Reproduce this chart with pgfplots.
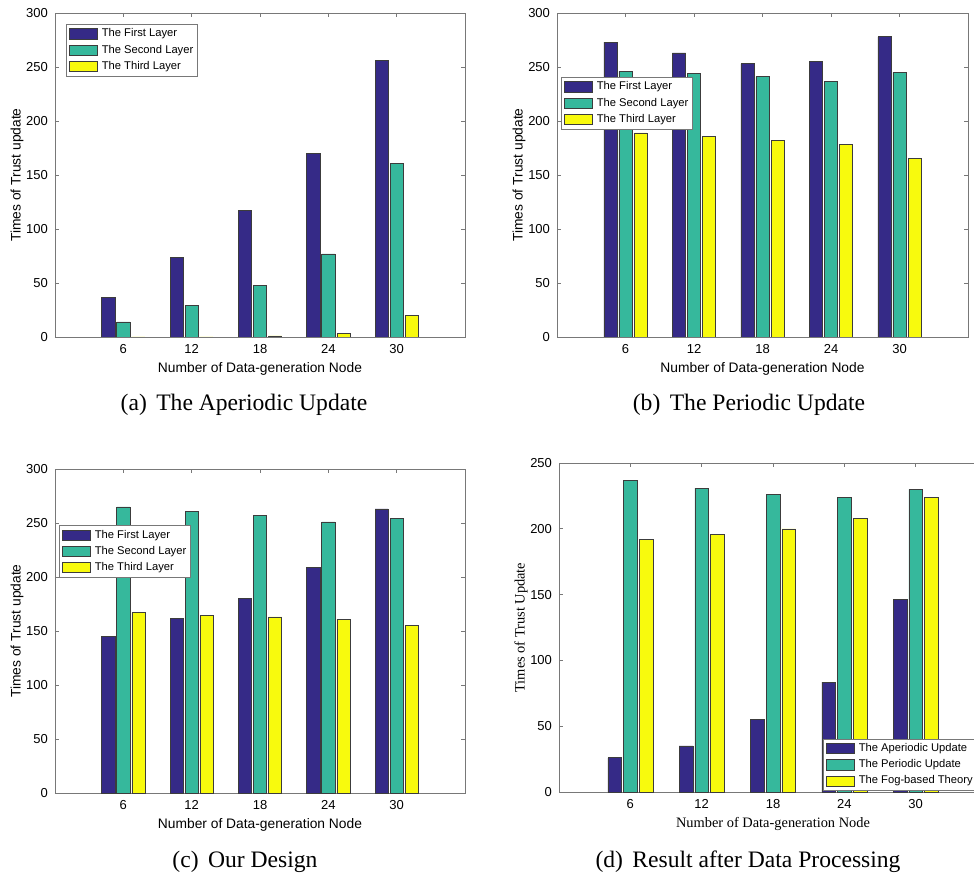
\documentclass[border=0pt]{standalone}
\usepackage{fontspec}
\setmainfont{Liberation Sans}
\newfontfamily\timesfont{Liberation Serif}
\usepackage{pgfplots}
\pgfplotsset{compat=1.18}
\usetikzlibrary{calc}
\definecolor{c1}{RGB}{53,42,135}
\definecolor{c2}{RGB}{54,184,156}
\definecolor{c3}{RGB}{248,250,13}
\definecolor{edge}{RGB}{60,60,60}
\definecolor{axcol}{RGB}{120,120,120}
\pgfplotsset{
 mybar/.style={
   scale only axis, anchor=north west,
   xmin=0, xmax=36, ymin=0,
   xtick={6,12,18,24,30},
   ybar, bar width=1.15,
   tick align=inside, major tick length=2pt,
   axis line style={draw=axcol, line width=0.4pt},
   tick style={draw=axcol, line width=0.4pt},
   /pgf/number format/assume math mode=true,
   ticklabel style={font=\fontsize{6.5}{7}\selectfont},
   label style={font=\fontsize{6.9}{8}\selectfont},
   xlabel={Number of Data-generation Node},
   ylabel={Times of Trust update},
   xlabel style={at={($(rel axis cs:0.5,0)+(0pt,-16pt)$)}, anchor=center},
   ylabel style={at={($(rel axis cs:0,0.5)+(-19pt,0pt)$)}, anchor=center},
   legend cell align=left,
   legend style={font=\fontsize{5.6}{6}\selectfont, draw=axcol, line width=0.4pt, fill=white,
     inner xsep=1.2pt, inner ysep=1pt, column sep=1.2pt,
     nodes={inner sep=1pt, text height=4.3pt, text depth=1.3pt}, row sep=0.5pt},
   legend image code/.code={\draw[#1] (0pt,-2.6pt) rectangle (14pt,2.6pt);},
   s1/.style={fill=c1, draw=edge, line width=0.3pt, bar shift=-1.32},
   s2/.style={fill=c2, draw=edge, line width=0.3pt, bar shift=0},
   s3/.style={fill=c3, draw=edge, line width=0.3pt, bar shift=1.32},
 }
}
\begin{document}
\begin{tikzpicture}[x=1pt,y=1pt]
\useasboundingbox (0pt,0pt) rectangle (487pt,-438.5pt);
% (a)
\begin{axis}[mybar, at={(27.5pt,-6.5pt)}, width=205pt, height=162pt, ymax=300, ytick={0,50,...,300},
  legend style={at={(rel axis cs:0,1)}, anchor=north west, xshift=5.5pt, yshift=-5.5pt}]
\addplot[s1] coordinates {(6,37) (12,74) (18,117) (24,170) (30,256)};
\addplot[s2] coordinates {(6,14) (12,29) (18,48) (24,77) (30,161)};
\addplot[s3] coordinates {(6,0) (12,0) (18,1) (24,3) (30,20)};
\legend{The First Layer, The Second Layer, The Third Layer}
\end{axis}
% (b)
\begin{axis}[mybar, at={(278.5pt,-6.5pt)}, width=205.5pt, height=162pt, ymax=300, ytick={0,50,...,300},
  legend style={at={(rel axis cs:0,1)}, anchor=north west, xshift=2pt, yshift=-32pt}]
\addplot[s1] coordinates {(6,273) (12,263) (18,253) (24,255) (30,278)};
\addplot[s2] coordinates {(6,246) (12,244) (18,241) (24,237) (30,245)};
\addplot[s3] coordinates {(6,189) (12,186) (18,182) (24,178) (30,165)};
\legend{The First Layer, The Second Layer, The Third Layer}
\end{axis}
% (c)
\begin{axis}[mybar, at={(27.5pt,-234.5pt)}, width=205pt, height=162pt, ymax=300, ytick={0,50,...,300},
  legend style={at={(rel axis cs:0,1)}, anchor=north west, xshift=2pt, yshift=-28pt}]
\addplot[s1] coordinates {(6,145) (12,162) (18,180) (24,209) (30,263)};
\addplot[s2] coordinates {(6,265) (12,261) (18,257) (24,251) (30,254)};
\addplot[s3] coordinates {(6,167) (12,164.5) (18,163) (24,161) (30,155)};
\legend{The First Layer, The Second Layer, The Third Layer}
\end{axis}
% (d)
\begin{axis}[mybar, at={(279.5pt,-231.5pt)}, width=214pt, height=164.5pt, ymax=250, ytick={0,50,...,250},
  label style={font=\timesfont\fontsize{7.2}{8}\selectfont},
  ylabel={Times of Trust Update},
  legend style={at={(rel axis cs:0,0)}, anchor=south west, xshift=132pt, yshift=0.5pt}]
\addplot[s1] coordinates {(6,26) (12,35) (18,55) (24,83.5) (30,146.5)};
\addplot[s2] coordinates {(6,237) (12,231) (18,226) (24,224) (30,230)};
\addplot[s3] coordinates {(6,192) (12,196) (18,200) (24,208) (30,224)};
\legend{The Aperiodic Update, The Periodic Update, The Fog-based Theory}
\end{axis}
\begin{scope}[every node/.style={font=\timesfont\fontsize{11.8}{12}\selectfont}]
\node at (122pt,-202.5pt) {(a)\hspace{0.4em}The Aperiodic Update};
\node at (374.5pt,-202.5pt) {(b)\hspace{0.4em}The Periodic Update};
\node at (122.5pt,-431pt) {(c)\hspace{0.4em}Our Design};
\node at (374pt,-431pt) {(d)\hspace{0.4em}Result after Data Processing};
\end{scope}
\end{tikzpicture}
\end{document}
